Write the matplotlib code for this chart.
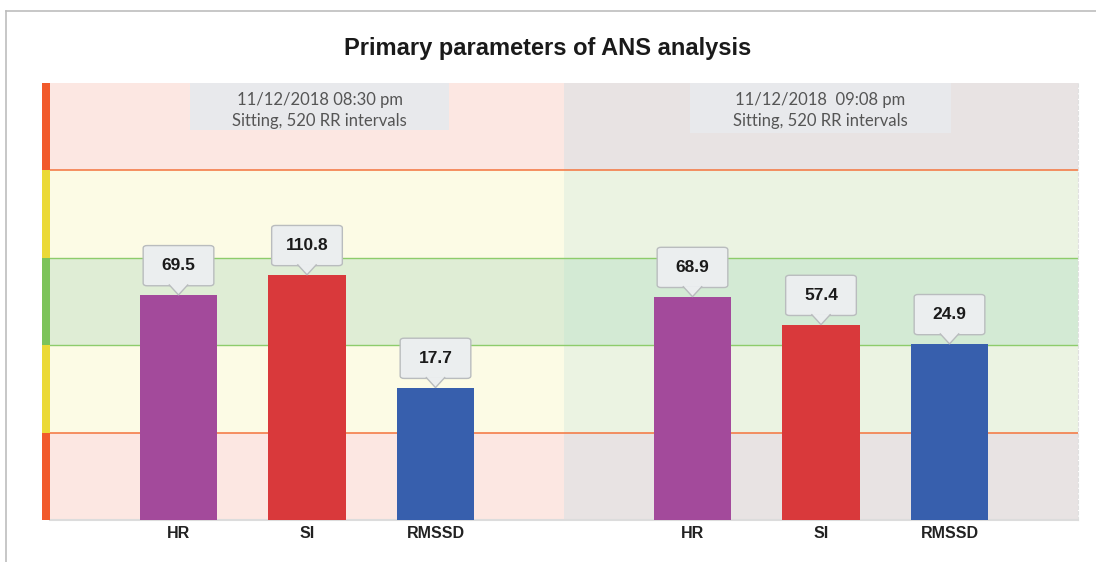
import matplotlib
matplotlib.use("Agg")
import matplotlib.pyplot as plt
from matplotlib.patches import FancyBboxPatch, Polygon, Rectangle
from matplotlib.lines import Line2D

# data
params = ["HR", "SI", "RMSSD"]
values_1 = [69.5, 110.8, 17.7]
values_2 = [68.9, 57.4, 24.9]
# bar heights on the 0..5 zone scale (drawn position)
levels_1 = [2.57, 2.80, 1.51]
levels_2 = [2.55, 2.23, 2.01]
headers = [("11/12/2018 08:30 pm", "Sitting, 520 RR intervals"),
           ("11/12/2018  09:08 pm", "Sitting, 520 RR intervals")]

bar_colors = ["#a34a9b", "#d9393b", "#375fad"]
zone_left = ["#fce7e2", "#fcfbe5", "#dfedd5", "#fcfbe5", "#fce7e2"]
zone_right = ["#e8e3e3", "#ebf3e2", "#d3ead4", "#ebf3e2", "#e8e3e3"]
strip = ["#f15a2b", "#ebd936", "#7cc35a", "#ebd936", "#f15a2b"]

W, H = 1096, 562
fig = plt.figure(figsize=(W / 100, H / 100), dpi=100)
fig.patch.set_facecolor("white")

# outer frame (left + top only)
fig.add_artist(Line2D([6 / W, 6 / W], [0, 1 - 11 / H], color="#bdbdbd", lw=1.2))
fig.add_artist(Line2D([6 / W, 1], [1 - 11 / H, 1 - 11 / H], color="#bdbdbd", lw=1.2))

bottom = (H - 520) / H
top = (H - 83) / H
ax = fig.add_axes([50 / W, bottom, (1078 - 50) / W, top - bottom])
sax = fig.add_axes([42 / W, bottom, 8 / W, top - bottom])

ax.set_xlim(0, 8)
ax.set_ylim(0, 5)

for i in range(5):
    ax.axhspan(i, i + 1, xmin=0, xmax=0.5, color=zone_left[i], lw=0, zorder=0)
    ax.axhspan(i, i + 1, xmin=0.5, xmax=1, color=zone_right[i], lw=0, zorder=0)
    sax.bar(0.5, 1, bottom=i, width=1, color=strip[i], lw=0)
sax.set_xlim(0, 1)
sax.set_ylim(0, 5)
sax.axis("off")

for yl in (1, 4):
    ax.axhline(yl, color="#f47d4a", lw=1.2, zorder=1)
for yl in (2, 3):
    ax.axhline(yl, color="#8dcc6b", lw=1.0, zorder=1)

pos_1 = [1, 2, 3]
pos_2 = [5, 6, 7]
ax.bar(pos_1, levels_1, width=0.6, color=bar_colors, zorder=3)
ax.bar(pos_2, levels_2, width=0.6, color=bar_colors, zorder=3)

# callouts above bars
bw, bh, tip = 0.55, 0.46, 0.11
for xs, lv, vals in ((pos_1, levels_1, values_1), (pos_2, levels_2, values_2)):
    for x, h, v in zip(xs, lv, vals):
        y0 = h + tip
        box = FancyBboxPatch((x - bw / 2, y0), bw, bh,
                             boxstyle="round,pad=0,rounding_size=0.03",
                             fc="#ebeeef", ec="#b9bcbe", lw=1, zorder=5)
        ax.add_patch(box)
        tri = Polygon([(x - 0.075, y0 + 0.015), (x, h + 0.005), (x + 0.075, y0 + 0.015)],
                      closed=False, fc="#ebeeef", ec="#b9bcbe", lw=1, zorder=6)
        ax.add_patch(tri)
        ax.text(x, y0 + bh / 2, f"{v:.1f}", ha="center", va="center",
                fontsize=12.5, fontweight="bold", color="#1a1a1a",
                family="Liberation Sans", zorder=7)

# header boxes
for (x0, x1, yb), (l1, l2) in zip(((1.09, 3.105, 4.46), (4.98, 7.01, 4.43)), headers):
    ax.add_patch(Rectangle((x0, yb), x1 - x0, 5 - yb, fc="#e8e9ec", lw=0, zorder=4))
    xc = (x0 + x1) / 2
    ax.text(xc, 4.81, l1, ha="center", va="center", fontsize=12,
            color="#555555", family="Lato", zorder=5)
    ax.text(xc, 4.57, l2, ha="center", va="center", fontsize=12,
            color="#555555", family="Lato", zorder=5)

ax.set_xticks(pos_1 + pos_2)
ax.set_xticklabels(params + params, fontsize=11.5, fontweight="bold",
                   color="#222222", family="Liberation Sans")
ax.tick_params(axis="x", length=0, pad=4)
ax.set_yticks([])
for s in ("left", "top"):
    ax.spines[s].set_visible(False)
ax.spines["bottom"].set_color("#dcdcdc")
ax.spines["bottom"].set_linewidth(1.5)
ax.spines["right"].set_color("#e0e0e0")
ax.spines["right"].set_linestyle((0, (3, 2)))

fig.text(548 / W, 1 - 48 / H, "Primary parameters of ANS analysis",
         ha="center", va="center", fontsize=17, fontweight="bold",
         color="#1a1a1a", family="Liberation Sans")

fig.savefig("out.png", dpi=100)
